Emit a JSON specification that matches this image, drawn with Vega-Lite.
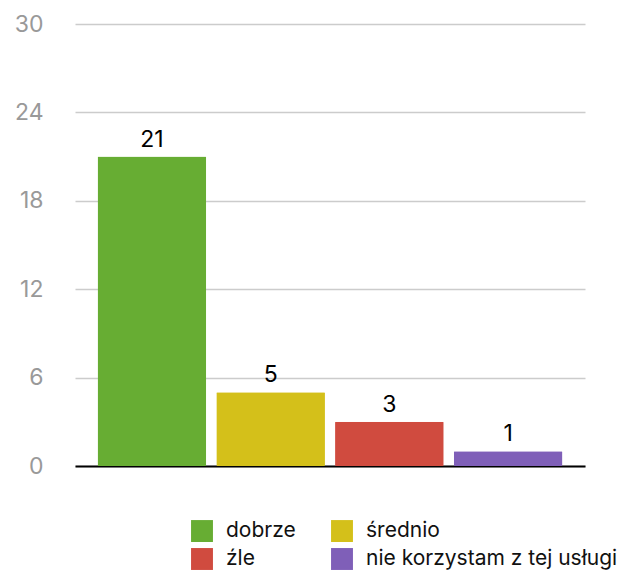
{
  "$schema": "https://vega.github.io/schema/vega-lite/v6.json",
  "autosize": "none",
  "width": 510,
  "height": 442,
  "padding": {"left": 75, "top": 24, "right": 38, "bottom": 106},
  "background": "white",
  "config": {"font": "Inter", "view": {"stroke": null}},
  "data": {"values": [
    {"kat": "dobrze", "n": 21},
    {"kat": "średnio", "n": 5},
    {"kat": "źle", "n": 3},
    {"kat": "nie korzystam z tej usługi", "n": 1}
  ]},
  "encoding": {
    "x": {"field": "kat", "type": "nominal", "sort": null,
      "scale": {"paddingInner": 0.085, "paddingOuter": 0.19},
      "axis": {"title": null, "labels": false, "ticks": false, "domainColor": "#000000", "domainWidth": 2, "grid": false}},
    "y": {"field": "n", "type": "quantitative",
      "scale": {"domain": [0, 30]},
      "axis": {"title": null, "values": [0, 6, 12, 18, 24, 30], "domain": false, "ticks": false,
        "labelFontSize": 23, "labelColor": "#999999", "labelPadding": 32, "labelFont": "Inter",
        "gridColor": "#cccccc", "gridWidth": 1.5}}
  },
  "layer": [
    {"mark": {"type": "bar", "cornerRadius": 1},
     "encoding": {
       "color": {"field": "kat", "type": "nominal",
         "scale": {"domain": ["dobrze", "źle", "średnio", "nie korzystam z tej usługi"],
                   "range": ["#67ad33", "#d04b3f", "#d4c01a", "#7f5fb8"]},
         "legend": {"title": null, "orient": "none", "legendX": 116, "legendY": 496, "columns": 2,
           "symbolType": "square", "symbolSize": 480, "symbolStrokeWidth": 0, "symbolOpacity": 1,
           "labelFontSize": 21, "labelColor": "#111111", "labelOffset": 13, "labelLimit": 400,
           "columnPadding": 35, "rowPadding": 6, "labelFont": "Inter"}}
     }},
    {"mark": {"type": "text", "dy": -17, "fontSize": 23, "color": "#000000", "font": "Inter"},
     "encoding": {"text": {"field": "n", "type": "quantitative"}}}
  ]
}
